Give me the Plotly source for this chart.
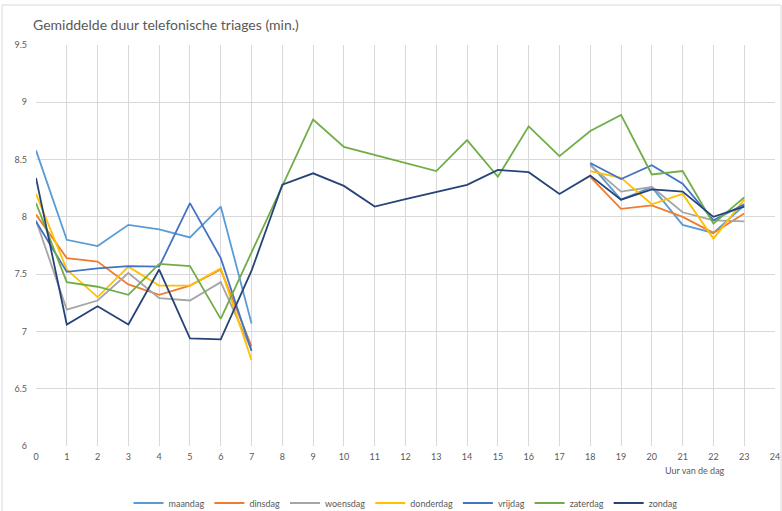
import plotly.graph_objects as go

hours = list(range(24))
N = None
maandag = [8.58, 7.80, 7.745, 7.93, 7.89, 7.82, 8.09, 7.07] + [N]*10 + [8.46, 8.15, 8.26, 7.93, 7.86, 8.10]
dinsdag = [8.02, 7.64, 7.61, 7.41, 7.32, 7.40, 7.54, 6.87] + [N]*10 + [8.35, 8.07, 8.10, 8.00, 7.86, 8.03]
woensdag = [7.97, 7.19, 7.27, 7.51, 7.29, 7.27, 7.43, 6.84] + [N]*10 + [8.45, 8.22, 8.26, 8.04, 7.97, 7.96]
donderdag = [8.20, 7.54, 7.30, 7.565, 7.40, 7.40, 7.55, 6.75] + [N]*10 + [8.40, 8.34, 8.11, 8.20, 7.81, 8.15]
vrijdag = [7.96, 7.52, 7.55, 7.57, 7.565, 8.12, 7.64, 6.83] + [N]*10 + [8.47, 8.33, 8.45, 8.29, 7.97, 8.11]
zaterdag = [8.12, 7.43, 7.39, 7.32, 7.59, 7.57, 7.11, 7.69, 8.28, 8.85, 8.61, 8.54, 8.47, 8.40,
            8.67, 8.35, 8.79, 8.53, 8.75, 8.89, 8.37, 8.40, 7.94, 8.17]
zondag = [8.34, 7.06, 7.22, 7.06, 7.54, 6.94, 6.93, 7.53, 8.28, 8.38, 8.27, 8.09, 8.155, 8.22,
          8.28, 8.41, 8.39, 8.20, 8.36, 8.15, 8.24, 8.22, 8.00, 8.09]

series = [
    ("maandag", maandag, "#5B9BD5"),
    ("dinsdag", dinsdag, "#ED7D31"),
    ("woensdag", woensdag, "#A5A5A5"),
    ("donderdag", donderdag, "#FFC000"),
    ("vrijdag", vrijdag, "#4472C4"),
    ("zaterdag", zaterdag, "#70AD47"),
    ("zondag", zondag, "#264478"),
]

fig = go.Figure()
for name, vals, col in series:
    fig.add_trace(go.Scatter(x=hours, y=vals, name=name, mode="lines",
                             line=dict(color=col, width=1.8), connectgaps=False))

font_fam = "Lato, 'Liberation Sans', sans-serif"
fig.update_layout(
    width=782, height=511,
    margin=dict(l=36, r=7, t=45, b=65, autoexpand=False),
    paper_bgcolor="white", plot_bgcolor="white",
    font=dict(family=font_fam, size=9, color="#595959"),
    title=dict(text="Gemiddelde duur telefonische triages (min.)", x=33/782, xanchor="left",
               y=1 - 25/511, yanchor="middle", font=dict(size=14, color="#595959", family=font_fam)),
    xaxis=dict(range=[0, 24], tickmode="linear", tick0=0, dtick=1, showgrid=True,
               gridcolor="#D9D9D9", gridwidth=1, zeroline=False, showline=False, automargin=False,
               ticks="", ticklabelstandoff=4, tickfont=dict(size=9, color="#595959")),
    yaxis=dict(range=[6, 9.5], tickmode="linear", tick0=6, dtick=0.5, showgrid=True,
               gridcolor="#D9D9D9", gridwidth=1, zeroline=False, showline=False, automargin=False,
               ticks="", ticklabelstandoff=8, tickfont=dict(size=9, color="#595959")),
    legend=dict(orientation="h", x=0.5, xanchor="center", y=(446 - 503) / 401, yanchor="middle",
                font=dict(size=9, color="#595959"), itemwidth=30, tracegroupgap=0),
    showlegend=True,
)
fig.add_annotation(text="Uur van de dag", x=21.4, xref="x", y=(446 - 478) / 401, yref="paper",
                   showarrow=False, font=dict(size=9, color="#595959"))
fig.add_shape(type="rect", xref="paper", yref="paper",
              x0=-34/739, x1=(781-36)/739, y0=(446-512)/401, y1=(446-5)/401,
              line=dict(color="#D9D9D9", width=1))
fig.write_html("out.html", config={"displayModeBar": False},
               post_script="document.body.style.margin='0px';")
